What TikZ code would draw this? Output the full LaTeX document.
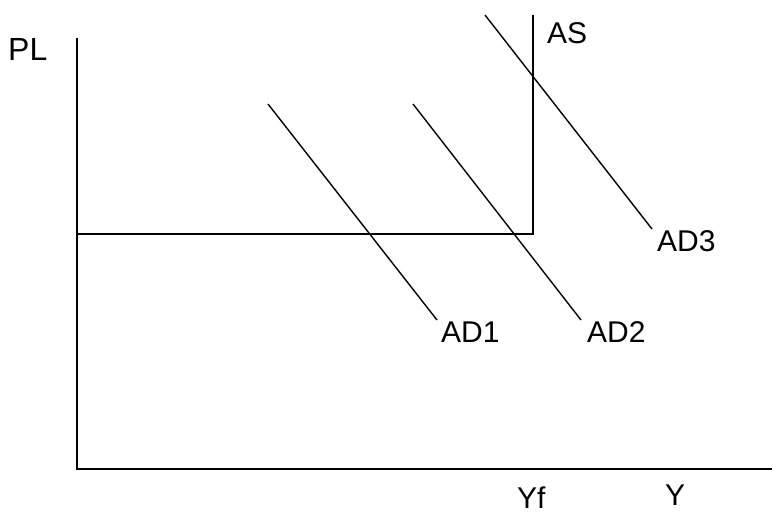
\documentclass[tikz,border=0pt]{standalone}
\usepackage{fontspec}
\setmainfont{Liberation Sans}
\begin{document}
\begin{tikzpicture}[x=1pt,y=-1pt,
  axis/.style={line width=1.7pt},
  curve/.style={line width=1.4pt},
  lbl/.style={anchor=base west,inner sep=0pt,font=\fontsize{30}{32}\selectfont}]
\useasboundingbox (0,0) rectangle (772,515);
% axes
\coordinate (O) at (77,469);
\coordinate (ytop) at (77,38);
\coordinate (xend) at (772,469);
\draw[axis] (ytop) -- (O) -- (xend);
% AS curve
\coordinate (asL) at (77,234);
\coordinate (asK) at (533,234);
\coordinate (asT) at (533,15);
\draw[curve] (asL) -- (asK) -- (asT);
% AD curves
\coordinate (ad1a) at (268,104);
\coordinate (ad1b) at (437,320);
\coordinate (ad2a) at (413,104);
\coordinate (ad2b) at (581,320);
\coordinate (ad3a) at (485,15);
\coordinate (ad3b) at (652,229);
\draw[curve] (ad1a) -- (ad1b);
\draw[curve] (ad2a) -- (ad2b);
\draw[curve] (ad3a) -- (ad3b);
% labels
\node[lbl,font=\fontsize{32}{34}\selectfont] (PL) at (8,60) {PL};
\node[lbl] (AS) at (547,43) {AS};
\node[lbl] (AD3) at (657,251) {AD3};
\node[lbl] (AD1) at (441,342) {AD1};
\node[lbl] (AD2) at (587,342) {AD2};
\node[lbl] (Yf) at (517,508) {Yf};
\node[lbl] (Y) at (665,505) {Y};
\end{tikzpicture}
\end{document}
